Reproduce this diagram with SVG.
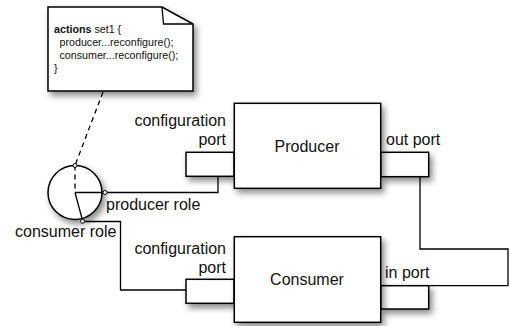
<svg xmlns="http://www.w3.org/2000/svg" width="510" height="326" viewBox="0 0 510 326">
  <defs>
    <filter id="shadow" x="-20%" y="-20%" width="150%" height="160%">
      <feDropShadow dx="3" dy="4" stdDeviation="3" flood-color="#000" flood-opacity="0.45"/>
    </filter>
  </defs>
  <style>
    .shape { fill: #fff; stroke: #000; stroke-width: 1.5; }
    .wire { fill: none; stroke: #000; stroke-width: 1.3; }
    .dash { fill: none; stroke: #000; stroke-width: 1.3; stroke-dasharray: 5 4; }
    .pin { fill: #fff; stroke: #000; stroke-width: 1; }
    .lbl { font-family: "Liberation Sans", Arial, Helvetica, sans-serif; font-size: 16px; fill: #111; }
    .code { font-family: "Liberation Sans", Arial, Helvetica, sans-serif; font-size: 10.7px; fill: #111; }
  </style>

  <!-- connectors -->
  <g id="connectors">
    <!-- note attachment -->
    <path class="dash" d="M103 92 L75 165.5 L75 192"/>
    <!-- producer role to producer configuration port -->
    <path class="wire" d="M107 192.5 H218 V176"/>
    <!-- consumer role to consumer configuration port -->
    <path class="wire" d="M84 221.5 H120.5 V290 H186"/>
    <!-- out port to in port -->
    <path class="wire" d="M420 176.5 V249 H508 V285.7 H428.7"/>
  </g>

  <!-- annotation note -->
  <g id="note">
    <path class="shape" filter="url(#shadow)" d="M48 7 H162 L193 24 V91 H48 Z"/>
    <path class="wire" d="M162 7 L163.5 24 H193"/>
    <text class="code" x="54" y="32.5"><tspan font-weight="bold">actions</tspan> set1 {</text>
    <text class="code" x="59.5" y="45.5">producer...reconfigure();</text>
    <text class="code" x="59.5" y="58.5">consumer...reconfigure();</text>
    <text class="code" x="54" y="71.5">}</text>
  </g>

  <!-- role circle -->
  <g id="roles">
    <circle class="shape" filter="url(#shadow)" cx="75" cy="192.5" r="27"/>
    <path class="dash" d="M75 165.5 L75 192"/>
    <path class="wire" d="M75 192.5 H103 M75 192.5 L82.3 219.5"/>
    <circle class="pin" cx="75" cy="165.5" r="2"/>
    <circle class="pin" cx="105" cy="192.5" r="2"/>
    <circle class="pin" cx="82.5" cy="221.3" r="2"/>
    <text class="lbl" x="106" y="210">producer role</text>
    <text class="lbl" x="15" y="237">consumer role</text>
  </g>

  <!-- producer component -->
  <g id="producer">
    <rect class="shape" filter="url(#shadow)" x="186" y="152.3" width="48" height="24"/>
    <rect class="shape" filter="url(#shadow)" x="380.7" y="152.3" width="48" height="24.4"/>
    <rect class="shape" filter="url(#shadow)" x="234.3" y="103.3" width="146.4" height="85"/>
    <text class="lbl" x="307" y="152" text-anchor="middle">Producer</text>
    <text class="lbl" x="226" y="126" text-anchor="end">configuration</text>
    <text class="lbl" x="226" y="145" text-anchor="end">port</text>
    <text class="lbl" x="386" y="145">out port</text>
  </g>

  <!-- consumer component -->
  <g id="consumer">
    <rect class="shape" filter="url(#shadow)" x="186" y="279.3" width="48" height="24"/>
    <rect class="shape" filter="url(#shadow)" x="380.7" y="285.7" width="48" height="23.3"/>
    <rect class="shape" filter="url(#shadow)" x="234.3" y="236.7" width="146.4" height="85.6"/>
    <text class="lbl" x="307" y="285" text-anchor="middle">Consumer</text>
    <text class="lbl" x="226" y="253.5" text-anchor="end">configuration</text>
    <text class="lbl" x="226" y="272.5" text-anchor="end">port</text>
    <text class="lbl" x="385" y="278">in port</text>
  </g>
</svg>
